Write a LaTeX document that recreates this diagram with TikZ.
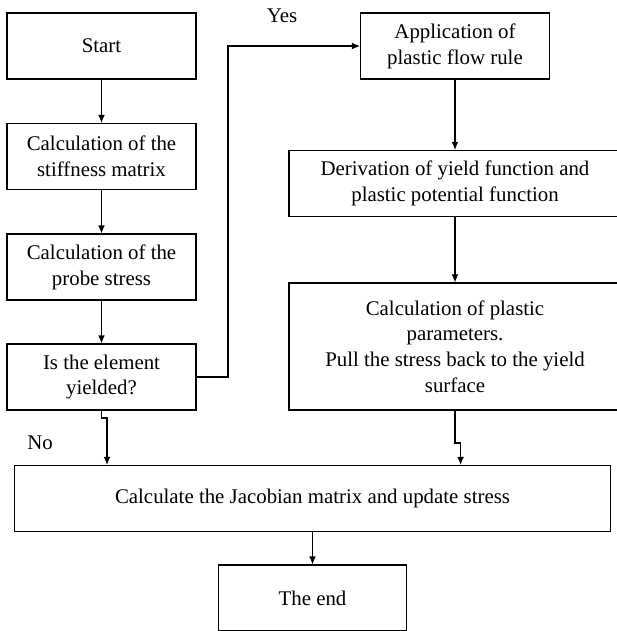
\documentclass[tikz,border=0pt]{standalone}
\usepackage{fontspec}
\setmainfont{Liberation Serif}
\usetikzlibrary{arrows.meta}

\begin{document}
\begin{tikzpicture}[>={Latex[length=0.24cm,width=0.2cm]}, x=0.03cm, y=-0.03cm, line width=0.9pt,
  font=\fontsize{17.8}{22}\selectfont,
  box/.style={draw, align=center, inner sep=0pt,
    minimum width=#1*0.03cm, minimum height=66*0.03cm},
  box/.default=189]
  \useasboundingbox (0,0) rectangle (617,631);
  % Left column
  \node[box] (start) at (101.5,46) {Start};
  \node[box] (stiff) at (101.5,156.5) {Calculation of the\\stiffness matrix};
  \node[box] (probe) at (101.5,267) {Calculation of the\\probe stress};
  \node[box] (yield) at (101.5,377) {Is the element\\yielded?};
  % Right column (plastic branch)
  \node[box] (apply) at (455,46) {Application of\\plastic flow rule};
  \node[box=332] (deriv) at (455,183.5) {Derivation of yield function and\\plastic potential function};
  \node[box=332, minimum height=127*0.03cm] (plastic) at (455,346.5)
    {Calculation of plastic\\parameters.\\Pull the stress back to the yield\\surface};
  % Bottom
  \node[box=596.5] (jacob) at (312.5,498.5) {Calculate the Jacobian matrix and update stress};
  \node[box=187.5] (theend) at (312.5,598) {The end};
  \node (yes) at (282,16) {Yes};
  \node (no) at (40,443) {No};
  % Connectors
  \coordinate (yesbend) at (228,377);
  \coordinate (nojog) at (107,418);
  \coordinate (pjog) at (460.6,443);
  \draw[->] (start) -- (stiff);
  \draw[->] (stiff) -- (probe);
  \draw[->] (probe) -- (yield);
  \draw[->] (yield) -- (yesbend) |- (apply);
  \draw[->] (apply) -- (deriv);
  \draw[->] (deriv) -- (plastic);
  \draw[->] (yield.south) |- (nojog) -- (nojog |- jacob.north);
  \draw[->] (plastic.south) |- (pjog) -- (pjog |- jacob.north);
  \draw[->] (jacob) -- (theend);
\end{tikzpicture}
\end{document}
